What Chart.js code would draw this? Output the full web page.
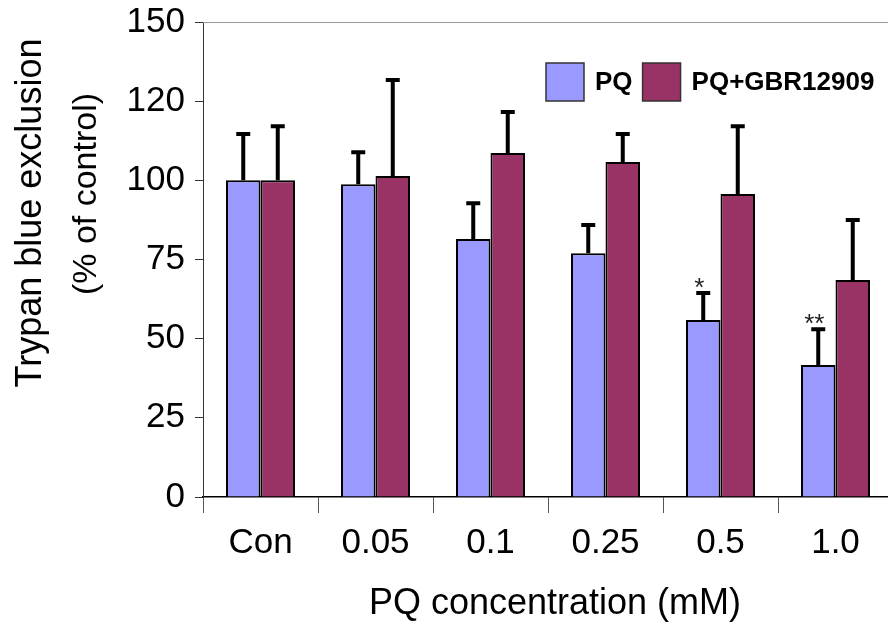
<!DOCTYPE html>
<html>
<head>
<meta charset="utf-8">
<script src="https://cdn.jsdelivr.net/npm/chart.js@4.4.1/dist/chart.umd.min.js"></script>
<style>
  html, body { margin: 0; padding: 0; background: #fff; overflow: hidden; }
  #wrap { width: 894px; height: 629px; }
</style>
</head>
<body>
<div id="wrap"><canvas id="chart" width="894" height="629"></canvas></div>
<script>
// data
const categories = ['Con', '0.05', '0.1', '0.25', '0.5', '1.0'];
const pqValues = [100, 98.8, 81.5, 77, 55.9, 41.7];
const pqErrors = [14.6, 10.1, 11.3, 8.9, 8.5, 11.3];
const gbrValues = [100, 101.4, 108.6, 105.8, 95.7, 68.5];
const gbrErrors = [17.1, 30.3, 13, 8.8, 21.4, 19];
const pqMarks = ['', '', '', '', '*', '**'];
const yTickLabels = ['0', '25', '50', '75', '100', '120', '150'];
const seriesLabels = ['PQ', 'PQ+GBR12909'];

const FONT = "'Liberation Sans', Arial, sans-serif";

// error bars, asterisks, legend, titles, top frame line
const extras = {
    id: 'extras',
    afterDatasetsDraw(chart) {
        const ctx = chart.ctx;
        const yScale = chart.scales.y;
        const errs = [pqErrors, gbrErrors];
        ctx.save();
        ctx.strokeStyle = '#000';
        ctx.lineWidth = 4;
        chart.data.datasets.forEach((ds, i) => {
            const meta = chart.getDatasetMeta(i);
            meta.data.forEach((bar, j) => {
                const top = yScale.getPixelForValue(ds.data[j] + errs[i][j]);
                ctx.beginPath();
                ctx.moveTo(bar.x, bar.y);
                ctx.lineTo(bar.x, top);
                ctx.moveTo(bar.x - 7, top);
                ctx.lineTo(bar.x + 7, top);
                ctx.stroke();
                if (i === 0 && pqMarks[j]) {
                    ctx.fillStyle = '#222';
                    ctx.font = '26px ' + FONT;
                    ctx.textAlign = 'center';
                    ctx.textBaseline = 'alphabetic';
                    ctx.fillText(pqMarks[j], bar.x - 4, top + 3);
                }
            });
        });
        ctx.restore();
    },
    afterDraw(chart) {
        const ctx = chart.ctx;
        const area = chart.chartArea;
        ctx.save();
        // top frame line
        ctx.strokeStyle = '#999';
        ctx.lineWidth = 1;
        ctx.beginPath();
        ctx.moveTo(area.left, area.top + 0.5);
        ctx.lineTo(area.right, area.top + 0.5);
        ctx.stroke();

        // legend
        const colors = chart.data.datasets.map(d => d.backgroundColor);
        ctx.font = 'bold 26px ' + FONT;
        ctx.textBaseline = 'middle';
        ctx.textAlign = 'left';
        let x = 546;
        const y = 63;
        seriesLabels.forEach((lab, i) => {
            ctx.fillStyle = colors[i];
            ctx.fillRect(x, y, 38, 38);
            ctx.strokeStyle = '#333';
            ctx.lineWidth = 1.5;
            ctx.strokeRect(x, y, 38, 38);
            ctx.fillStyle = '#000';
            ctx.fillText(lab, x + 49, y + 20);
            x += 49 + ctx.measureText(lab).width + 10;
        });

        // axis titles
        ctx.fillStyle = '#000';
        ctx.textAlign = 'center';
        ctx.font = '36px ' + FONT;
        ctx.fillText('PQ concentration (mM)', 555, 604);
        ctx.save();
        ctx.translate(31, 213);
        ctx.rotate(-Math.PI / 2);
        ctx.fillText('Trypan blue exclusion', 0, 0);
        ctx.restore();
        ctx.save();
        ctx.font = '34px ' + FONT;
        ctx.translate(87, 194);
        ctx.rotate(-Math.PI / 2);
        ctx.fillText('(% of control)', 0, 0);
        ctx.restore();
        ctx.restore();
    }
};

new Chart(document.getElementById('chart'), {
    type: 'bar',
    data: {
        labels: categories,
        datasets: [
            {
                label: seriesLabels[0],
                data: pqValues,
                backgroundColor: '#9999FF',
                borderColor: '#000',
                borderWidth: 2,
                categoryPercentage: 0.6,
                barPercentage: 1.0
            },
            {
                label: seriesLabels[1],
                data: gbrValues,
                backgroundColor: '#993366',
                borderColor: '#000',
                borderWidth: 2,
                categoryPercentage: 0.6,
                barPercentage: 1.0
            }
        ]
    },
    options: {
        responsive: false,
        animation: false,
        layout: { padding: { top: 22, right: 1, left: 0, bottom: 0 } },
        plugins: {
            legend: { display: false },
            tooltip: { enabled: false }
        },
        scales: {
            x: {
                grid: {
                    offset: true,
                    drawOnChartArea: false,
                    drawTicks: true,
                    tickLength: 16,
                    color: '#555'
                },
                border: { color: '#000', width: 1.5 },
                ticks: {
                    color: '#000',
                    font: { family: FONT, size: 35 },
                    padding: 9,
                    maxRotation: 0
                },
                afterFit(scale) { scale.height = 132; }
            },
            y: {
                min: 0,
                max: 150,
                grid: {
                    drawOnChartArea: false,
                    drawTicks: true,
                    tickLength: 8,
                    color: '#333'
                },
                border: { color: '#333', width: 1 },
                ticks: {
                    stepSize: 25,
                    color: '#000',
                    font: { family: FONT, size: 35 },
                    padding: 10,
                    callback: (v, i) => yTickLabels[i]
                },
                afterFit(scale) {
                    scale.width = 203;
                    scale.paddingTop = 0;
                }
            }
        }
    },
    plugins: [extras]
});
</script>
</body>
</html>
